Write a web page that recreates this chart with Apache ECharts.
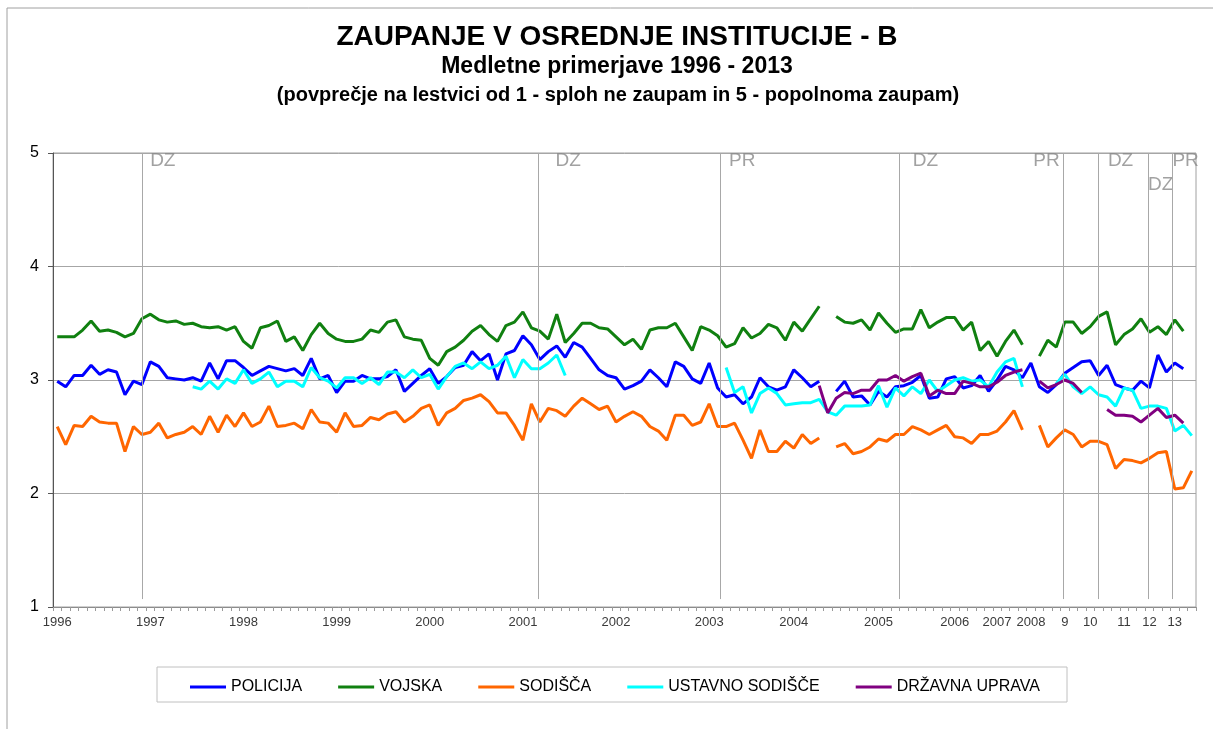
<!DOCTYPE html>
<html>
<head>
<meta charset="utf-8">
<title>Zaupanje v osrednje institucije - B</title>
<script src="https://cdn.jsdelivr.net/npm/echarts@6/dist/echarts.min.js"></script>
<style>
  html, body { margin: 0; padding: 0; background: #fff; }
  #chart { width: 1213px; height: 729px; }
</style>
</head>
<body>
<div id="chart"></div>
<script>
  // one category per survey, 1996 - 2013
  var xLabels = [];
  var yearLabels = {
    0: "1996", 11: "1997", 22: "1998", 33: "1999", 44: "2000", 55: "2001",
    66: "2002", 77: "2003", 87: "2004", 97: "2005", 106: "2006", 111: "2007",
    115: "2008", 119: "9", 122: "10", 126: "11", 129: "12", 132: "13"
  };
  var surveyCount = 135;

  var policija = [
    2.99, 2.94, 3.04, 3.04, 3.13, 3.05, 3.09, 3.07, 2.87, 2.99,
    2.96, 3.16, 3.12, 3.02, 3.01, 3.00, 3.02, 2.99, 3.15, 3.01,
    3.17, 3.17, 3.11, 3.04, 3.08, 3.12, 3.10, 3.08, 3.10, 3.04,
    3.19, 3.01, 3.04, 2.89, 2.99, 2.99, 3.04, 3.01, 3.01, 3.03,
    3.09, 2.90, 2.97, 3.04, 3.10, 2.97, 3.03, 3.11, 3.13, 3.25,
    3.17, 3.23, 3.00, 3.23, 3.26, 3.39, 3.31, 3.18, 3.25, 3.30,
    3.20, 3.33, 3.29, 3.19, 3.09, 3.04, 3.02, 2.92, 2.95, 2.99,
    3.09, 3.02, 2.94, 3.16, 3.12, 3.01, 2.97, 3.15, 2.93, 2.85,
    2.87, 2.79, 2.85, 3.02, 2.94, 2.91, 2.94, 3.09, 3.02, 2.94,
    2.99, null, 2.90, 2.99, 2.85, 2.86, 2.78, 2.90, 2.85, 2.94,
    2.95, 2.98, 3.04, 2.84, 2.85, 3.01, 3.03, 2.93, 2.95, 3.04,
    2.90, 3.00, 3.12, 3.09, 3.02, 3.15, 2.94, 2.89, 2.96, 3.06,
    3.11, 3.16, 3.17, 3.04, 3.13, 2.96, 2.93, 2.91, 2.99, 2.93,
    3.22, 3.07, 3.15, 3.10, null
  ];

  var vojska = [
    3.38, 3.38, 3.38, 3.44, 3.52, 3.43, 3.44, 3.42, 3.38, 3.41,
    3.54, 3.58, 3.53, 3.51, 3.52, 3.49, 3.50, 3.47, 3.46, 3.47,
    3.44, 3.47, 3.34, 3.28, 3.46, 3.48, 3.52, 3.34, 3.38, 3.26,
    3.40, 3.50, 3.41, 3.36, 3.34, 3.34, 3.36, 3.44, 3.42, 3.51,
    3.53, 3.38, 3.36, 3.35, 3.19, 3.13, 3.25, 3.29, 3.35, 3.43,
    3.48, 3.40, 3.34, 3.48, 3.51, 3.60, 3.46, 3.43, 3.36, 3.58,
    3.33, 3.41, 3.50, 3.50, 3.46, 3.45, 3.38, 3.31, 3.36, 3.27,
    3.44, 3.46, 3.46, 3.50, 3.38, 3.26, 3.47, 3.44, 3.39, 3.29,
    3.32, 3.46, 3.37, 3.41, 3.49, 3.46, 3.35, 3.51, 3.43, 3.54,
    3.65, null, 3.56, 3.51, 3.50, 3.53, 3.44, 3.59, 3.50, 3.42,
    3.45, 3.45, 3.62, 3.46, 3.51, 3.55, 3.55, 3.44, 3.51, 3.26,
    3.34, 3.21, 3.34, 3.44, 3.31, null, 3.21, 3.35, 3.29, 3.51,
    3.51, 3.41, 3.47, 3.56, 3.60, 3.31, 3.40, 3.45, 3.54, 3.42,
    3.47, 3.40, 3.53, 3.43, null
  ];

  var sodisca = [
    2.59, 2.43, 2.60, 2.59, 2.68, 2.63, 2.62, 2.62, 2.37, 2.59,
    2.52, 2.54, 2.62, 2.49, 2.52, 2.54, 2.59, 2.52, 2.68, 2.54,
    2.69, 2.59, 2.71, 2.59, 2.63, 2.77, 2.59, 2.60, 2.62, 2.57,
    2.74, 2.63, 2.62, 2.54, 2.71, 2.59, 2.60, 2.67, 2.65, 2.70,
    2.72, 2.63, 2.68, 2.75, 2.78, 2.60, 2.71, 2.75, 2.82, 2.84,
    2.87, 2.81, 2.71, 2.71, 2.60, 2.47, 2.79, 2.63, 2.75, 2.73,
    2.68, 2.77, 2.84, 2.79, 2.74, 2.77, 2.63, 2.68, 2.72, 2.68,
    2.59, 2.55, 2.47, 2.69, 2.69, 2.60, 2.63, 2.79, 2.59, 2.59,
    2.62, 2.47, 2.31, 2.56, 2.37, 2.37, 2.46, 2.40, 2.52, 2.44,
    2.49, null, 2.41, 2.44, 2.35, 2.37, 2.41, 2.48, 2.46, 2.52,
    2.52, 2.59, 2.56, 2.52, 2.56, 2.60, 2.50, 2.49, 2.44, 2.52,
    2.52, 2.55, 2.63, 2.73, 2.56, null, 2.60, 2.41, 2.49, 2.56,
    2.52, 2.41, 2.46, 2.46, 2.43, 2.22, 2.30, 2.29, 2.27, 2.31,
    2.36, 2.37, 2.04, 2.05, 2.20
  ];

  // ustavno sodisce starts at survey 16
  var ustavnoFrom = 16;
  var ustavno = [
                            2.94, 2.92, 2.99, 2.92,
    3.01, 2.97, 3.09, 2.97, 3.01, 3.07, 2.94, 2.99, 2.99, 2.94,
    3.11, 3.02, 2.99, 2.93, 3.02, 3.02, 2.97, 3.02, 2.96, 3.07,
    3.07, 3.02, 3.09, 3.02, 3.05, 2.92, 3.03, 3.12, 3.15, 3.10,
    3.16, 3.10, 3.13, 3.21, 3.02, 3.18, 3.10, 3.10, 3.15, 3.22,
    3.04, null, null, null, null, null, null, null, null, null,
    null, null, null, null, null, null, null, null, null, 3.11,
    2.89, 2.94, 2.71, 2.88, 2.93, 2.88, 2.78, 2.79, 2.80, 2.80,
    2.83, 2.72, 2.69, 2.77, 2.77, 2.77, 2.78, 2.95, 2.76, 2.93,
    2.86, 2.94, 2.88, 3.00, 2.90, 2.95, 3.00, 3.02, 2.99, 3.00,
    2.94, 3.07, 3.16, 3.19, 2.94, null, null, null, 2.97, 3.05,
    2.94, 2.88, 2.94, 2.87, 2.85, 2.77, 2.93, 2.91, 2.75, 2.77,
    2.77, 2.75, 2.55, 2.60, 2.51
  ];

  // drzavna uprava starts at survey 90
  var drzavnaFrom = 90;
  var drzavna = [
    2.95, 2.71, 2.84, 2.89, 2.88, 2.91, 2.91, 3.00, 3.00, 3.04,
    2.99, 3.03, 3.06, 2.86, 2.91, 2.88, 2.88, 2.99, 2.97, 2.94,
    2.94, 2.98, 3.04, 3.07, 3.09, null, 2.99, 2.93, 2.96, 3.00,
    2.97, 2.89, null, null, 2.74, 2.69, 2.69, 2.68, 2.63, 2.69,
    2.75, 2.67, 2.69, 2.62
  ];

  // elections: DZ = parliament, PR = president (position in survey units)
  var eventAt = [10.1, 56.8, 78.3, 99.46, 118.85, 122.99, 128.9, 131.73];
  var eventName = ["DZ", "DZ", "PR", "DZ", "PR", "DZ", "DZ", "PR"];
  var eventLabelX = [12.47, 60.34, 80.9, 102.54, 116.84, 125.59, 130.32, 133.27];
  var eventLabelY = [4.93, 4.93, 4.93, 4.93, 4.93, 4.93, 4.72, 4.93];

  for (var i = 0; i < surveyCount; i++) {
    xLabels.push(yearLabels[i] || "");
  }

  function pad(from, arr) {
    var out = [];
    for (var i = 0; i < from; i++) out.push(null);
    out = out.concat(arr);
    while (out.length < surveyCount) out.push(null);
    return out;
  }

  var font = "'Liberation Sans', Arial, sans-serif";
  var names = ["POLICIJA", "VOJSKA", "SODIŠČA", "USTAVNO SODIŠČE", "DRŽAVNA UPRAVA"];
  var colors = ["#0000ff", "#108010", "#ff6600", "#00ffff", "#800080"];
  var values = [policija, vojska, sodisca, pad(ustavnoFrom, ustavno), pad(drzavnaFrom, drzavna)];

  var series = names.map(function (name, idx) {
    return {
      name: name,
      type: "line",
      data: values[idx],
      symbol: "none",
      connectNulls: false,
      lineStyle: { color: colors[idx], width: 3 },
      itemStyle: { color: colors[idx] }
    };
  });

  // election markers
  series.push({
    name: "events",
    type: "scatter",
    xAxisIndex: 1,
    symbolSize: 1,
    itemStyle: { color: "transparent" },
    data: eventName.map(function (n, idx) {
      return [eventLabelX[idx], eventLabelY[idx], n];
    }),
    label: {
      show: true,
      position: "inside",
      formatter: function (p) { return p.data[2]; },
      fontFamily: font,
      fontSize: 19,
      color: "#8a8a8a"
    },
    markLine: {
      silent: true,
      symbol: "none",
      animation: false,
      label: { show: false },
      lineStyle: { color: "#a8a8a8", width: 1, type: "solid" },
      data: eventAt.map(function (x) {
        return [{ coord: [x, 1.07] }, { coord: [x, 5] }];
      })
    },
    z: 1
  });

  var chart = echarts.init(document.getElementById("chart"));
  chart.setOption({
    animation: false,
    backgroundColor: "#fff",
    textStyle: { fontFamily: font },
    graphic: [
      {
        type: "rect",
        shape: { x: 7, y: 8, width: 1300, height: 800 },
        style: { fill: "none", stroke: "#a0a0a0", lineWidth: 1 },
        silent: true
      },
      {
        type: "rect",
        shape: { x: 157, y: 667, width: 910, height: 35 },
        style: { fill: "none", stroke: "#c0c0c0", lineWidth: 1 },
        silent: true
      },
      {
        type: "text", x: 617, y: 37,
        style: { text: "ZAUPANJE V OSREDNJE INSTITUCIJE - B", fontFamily: font, fontWeight: "bold",
          fontSize: 28, fill: "#000", align: "center", verticalAlign: "middle" }
      },
      {
        type: "text", x: 617, y: 67,
        style: { text: "Medletne primerjave 1996 - 2013", fontFamily: font, fontWeight: "bold",
          fontSize: 23, fill: "#000", align: "center", verticalAlign: "middle" }
      },
      {
        type: "text", x: 618, y: 95,
        style: { text: "(povprečje na lestvici od 1 - sploh ne zaupam in 5 - popolnoma zaupam)",
          fontFamily: font, fontWeight: "bold", fontSize: 20, fill: "#000",
          align: "center", verticalAlign: "middle" }
      }
    ],
    legend: {
      data: names,
      icon: "rect",
      left: 185,
      top: 674,
      itemWidth: 36,
      itemHeight: 3,
      itemGap: 36,
      textStyle: { fontFamily: font, fontSize: 16, color: "#000" }
    },
    grid: {
      left: 53,
      right: 17,
      top: 153,
      bottom: 122,
      show: true,
      borderColor: "#a0a0a0",
      borderWidth: 1
    },
    xAxis: [
      {
        type: "category",
        data: xLabels,
        boundaryGap: true,
        axisLine: { lineStyle: { color: "#8c8c8c", width: 1 } },
        axisTick: { show: true, interval: 0, length: 4, lineStyle: { color: "#9a9a9a" } },
        axisLabel: { interval: 0, fontSize: 13, color: "#3a3a3a", margin: 9 },
        splitLine: { show: false }
      },
      {
        type: "value",
        min: -0.5,
        max: surveyCount - 0.5,
        show: false
      }
    ],
    yAxis: {
      type: "value",
      min: 1,
      max: 5,
      interval: 1,
      axisLine: { show: true, onZero: false, lineStyle: { color: "#555", width: 1 } },
      axisTick: { show: true, length: 5, lineStyle: { color: "#555" } },
      axisLabel: { fontSize: 16, color: "#000", margin: 14 },
      splitLine: { show: true, lineStyle: { color: "#a6a6a6", width: 1 } }
    },
    series: series
  });
</script>
</body>
</html>
